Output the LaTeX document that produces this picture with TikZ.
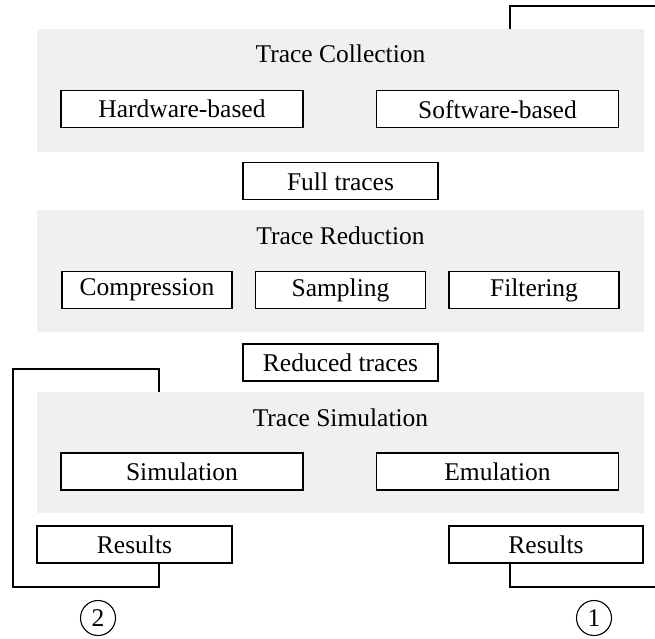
\documentclass[tikz,border=0pt]{standalone}
\usepackage{fontspec}
\setmainfont{Liberation Serif}
\definecolor{panelgray}{HTML}{F0F0F0}
\begin{document}
\begin{tikzpicture}[x=1pt,y=-1pt,
  panel/.style={rectangle,fill=panelgray,draw=none,minimum width=607pt,inner sep=0pt},
  ptitle/.style={anchor=base,inner sep=0pt,font=\fontsize{25.5}{30}\selectfont},
  itembox/.style={rectangle,draw=black,fill=white,line width=1.3pt,minimum height=37pt,inner sep=0pt,font=\fontsize{25.5}{30}\selectfont},
  conn/.style={line width=1.3pt,line join=miter},
  numcirc/.style={circle,draw=black,line width=1.1pt,minimum size=35pt,inner sep=0pt,font=\fontsize{25.5}{30}\selectfont}]
\useasboundingbox (0,0) rectangle (655,638);
\begin{scope}
\clip (0,0) rectangle (655,638);
% panels
\node[panel,minimum height=123pt] (p1) at (340.5,90.5) {};
\node[panel,minimum height=122pt] (p2) at (340.5,271) {};
\node[panel,minimum height=121pt] (p3) at (340.5,452.5) {};
% titles
\node[ptitle] (t1) at (340.5,62.7) {Trace Collection};
\node[ptitle] (t2) at (340.5,244) {Trace Reduction};
\node[ptitle] (t3) at (340.5,426) {Trace Simulation};
% panel 1 boxes
\node[itembox,minimum width=242pt] (hw) at (182,109.2) {Hardware-based};
\node[itembox,minimum width=242pt] (sw) at (497.5,109.2) {Software-based};
% full traces
\node[itembox,minimum width=195pt] (ft) at (340.5,181.3) {Full traces};
% panel 2 boxes
\node[itembox,minimum width=170pt] (cmp) at (147,290) {Compression};
\node[itembox,minimum width=170pt] (smp) at (340.5,290) {Sampling};
\node[itembox,minimum width=170pt] (flt) at (534,290) {Filtering};
% reduced traces
\node[itembox,minimum width=195pt] (rt) at (340.5,362.5) {Reduced traces};
% panel 3 boxes
\node[itembox,minimum width=242pt] (sim) at (182,471.5) {Simulation};
\node[itembox,minimum width=242pt] (emu) at (497.5,471.5) {Emulation};
% results
\node[itembox,minimum width=195pt] (rL) at (134.5,544.5) {Results};
\node[itembox,minimum width=194pt] (rR) at (546,544.5) {Results};
% circles
\node[numcirc] (c2) at (98,618) {2};
\node[numcirc] (c1) at (594,618) {1};
% connector coordinates
\coordinate (a1) at (510,6);
\coordinate (e1) at (656,6);
\coordinate (k1) at (159,369);
\coordinate (k2) at (13,369);
\coordinate (k3) at (13,587);
\coordinate (k4) at (159,587);
\coordinate (k5) at (510,587);
\coordinate (e2) at (656,587);
% connectors
\draw[conn] (p1.north -| a1) -- (a1) -- (e1);
\draw[conn] (p3.north -| k1) -- (k1) -- (k2) -- (k3) -- (k4) -- (rL.south -| k4);
\draw[conn] (rR.south -| k5) -- (k5) -- (e2);
\end{scope}
\end{tikzpicture}
\end{document}
